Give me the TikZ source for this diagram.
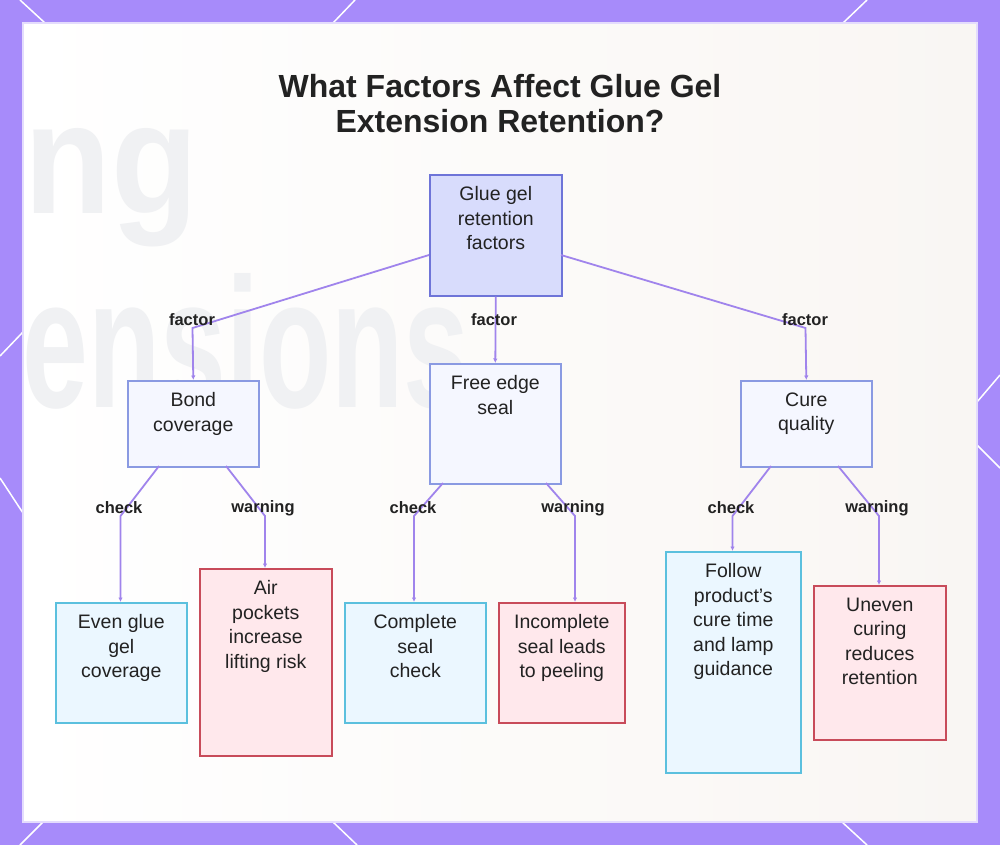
\documentclass[tikz,border=0pt]{standalone}
\usepackage{fontspec}
\setmainfont{Liberation Sans}
\usetikzlibrary{arrows.meta}
\definecolor{frame}{HTML}{A78BFA}
\definecolor{panelR}{HTML}{F9F6F3}
\definecolor{paneledge}{HTML}{E4DCFD}
\definecolor{bgtext}{HTML}{F0F1F3}
\definecolor{textc}{HTML}{222222}
\definecolor{linec}{HTML}{A084EC}
\definecolor{rootdraw}{HTML}{6E74D8}
\definecolor{rootfill}{HTML}{D8DCFC}
\definecolor{factdraw}{HTML}{8A9AE2}
\definecolor{factfill}{HTML}{F5F7FF}
\definecolor{checkdraw}{HTML}{5BC0DE}
\definecolor{checkfill}{HTML}{EBF7FF}
\definecolor{warndraw}{HTML}{C84B5A}
\definecolor{warnfill}{HTML}{FFE8EC}
\tikzset{
  box/.style={draw, line width=1.6pt, rectangle, inner sep=0pt, anchor=north west},
  rootbox/.style={box, draw=rootdraw, fill=rootfill},
  factbox/.style={box, draw=factdraw, fill=factfill},
  chkbox/.style={box, draw=checkdraw, fill=checkfill},
  warnbox/.style={box, draw=warndraw, fill=warnfill},
  txt/.style={anchor=north, inner sep=0pt, align=center, text=textc, font=\fontsize{19.5}{24.5}\selectfont},
  lbl/.style={inner sep=0pt, text=textc, font=\bfseries\fontsize{16.5}{18}\selectfont},
  conn/.style={draw=linec, line width=1.8pt, -{Latex[length=4.5pt,width=4.5pt]}},
  deco/.style={draw=white, line width=1.5pt},
}
\begin{document}
\begin{tikzpicture}[x=1pt,y=-1pt]
\useasboundingbox (0,0) rectangle (1000,845);
% frame
\fill[frame] (0,0) rectangle (1000,845);
\draw[deco] (20,0) -- (45,23);
\draw[deco] (355,0) -- (333,23);
\draw[deco] (867,0) -- (843,23);
\draw[deco] (43,822) -- (20,845);
\draw[deco] (333,822) -- (357,845);
\draw[deco] (842,822) -- (867,845);
\draw[deco] (0,356) -- (23,332);
\draw[deco] (0,478) -- (23,513);
\draw[deco] (977,402) -- (1000,375);
\draw[deco] (977,445) -- (1000,468);
% panel
\shade[left color=white, right color=panelR] (23,23) rectangle (977,822);
\begin{scope}
\clip (23,23) rectangle (977,822);
\node[anchor=base west, inner sep=0pt, text=bgtext, font=\bfseries\fontsize{158}{158}\selectfont] (bgA) at (24,213) {\scalebox{0.9}[1]{ng}};
\node[anchor=base west, inner sep=0pt, text=bgtext, font=\bfseries\fontsize{185}{185}\selectfont] (bgB) at (22,407) {\scalebox{0.64}[1]{ensions}};
\end{scope}
\draw[paneledge, line width=1.5pt] (23,23) rectangle (977,822);
% title
\node[anchor=north, inner sep=0pt, align=center, text=textc, font=\bfseries\fontsize{32}{35}\selectfont] (title) at (500,74.5) {What Factors Affect Glue Gel\\Extension Retention?};
% boxes
\node[rootbox, minimum width=132pt, minimum height=121pt] (root) at (429,174) {};
\node[factbox, minimum width=131pt, minimum height=86pt] (bond) at (127,380) {};
\node[factbox, minimum width=131pt, minimum height=120pt] (edge) at (429,363) {};
\node[factbox, minimum width=131pt, minimum height=86pt] (cure) at (740,380) {};
\node[chkbox, minimum width=131pt, minimum height=120pt] (even) at (55,602) {};
\node[warnbox, minimum width=132pt, minimum height=187pt] (air) at (199,568) {};
\node[chkbox, minimum width=141pt, minimum height=120pt] (seal) at (344,602) {};
\node[warnbox, minimum width=126pt, minimum height=120pt] (peel) at (498,602) {};
\node[chkbox, minimum width=135pt, minimum height=221pt] (follow) at (665,551) {};
\node[warnbox, minimum width=132pt, minimum height=154pt] (uneven) at (813,585) {};
% texts
\node[txt] (roott) at ([yshift=-12.5pt]root.north) {Glue gel\\retention\\factors};
\node[txt] (bondt) at ([yshift=-12.5pt]bond.north) {Bond\\coverage};
\node[txt] (edget) at ([yshift=-12.5pt]edge.north) {Free edge\\seal};
\node[txt] (curet) at ([yshift=-12.5pt]cure.north) {Cure\\quality};
\node[txt] (event) at ([yshift=-12.5pt]even.north) {Even glue\\gel\\coverage};
\node[txt] (airt) at ([yshift=-12.5pt]air.north) {Air\\pockets\\increase\\lifting risk};
\node[txt] (sealt) at ([yshift=-12.5pt]seal.north) {Complete\\seal\\check};
\node[txt] (peelt) at ([yshift=-12.5pt]peel.north) {Incomplete\\seal leads\\to peeling};
\node[txt] (followt) at ([yshift=-12.5pt]follow.north) {Follow\\product's\\cure time\\and lamp\\guidance};
\node[txt] (uneventt) at ([yshift=-12.5pt]uneven.north) {Uneven\\curing\\reduces\\retention};
% bend points
\coordinate (rl) at (429,255);
\coordinate (rr) at (561,255);
\coordinate (b1) at (192.5,328);
\coordinate (b3) at (805.5,328);
\coordinate (c1s) at (159,466);
\coordinate (c1b) at (120.5,516);
\coordinate (w1s) at (226,466);
\coordinate (w1b) at (265,516);
\coordinate (c2s) at (443,483);
\coordinate (c2b) at (414,516);
\coordinate (w2s) at (546,483);
\coordinate (w2b) at (575,516);
\coordinate (c3s) at (771,466);
\coordinate (c3b) at (732.5,516);
\coordinate (w3s) at (838,466);
\coordinate (w3b) at (879,516);
% connectors
\draw[conn] (rl) -- (b1) -- (bond.north);
\draw[conn] (root.south) -- (edge.north);
\draw[conn] (rr) -- (b3) -- (cure.north);
\draw[conn] (c1s) -- (c1b) -- (c1b |- even.north);
\draw[conn] (w1s) -- (w1b) -- (w1b |- air.north);
\draw[conn] (c2s) -- (c2b) -- (c2b |- seal.north);
\draw[conn] (w2s) -- (w2b) -- (w2b |- peel.north);
\draw[conn] (c3s) -- (c3b) -- (c3b |- follow.north);
\draw[conn] (w3s) -- (w3b) -- (w3b |- uneven.north);
% labels
\node[lbl] (f1) at (192,320) {factor};
\node[lbl] (f2) at (494,320) {factor};
\node[lbl] (f3) at (805,320) {factor};
\node[lbl] (l1) at (119,508) {check};
\node[lbl] (l2) at (263,508) {warning};
\node[lbl] (l3) at (413,508) {check};
\node[lbl] (l4) at (573,508) {warning};
\node[lbl] (l5) at (731,508) {check};
\node[lbl] (l6) at (877,508) {warning};
\end{tikzpicture}
\end{document}
